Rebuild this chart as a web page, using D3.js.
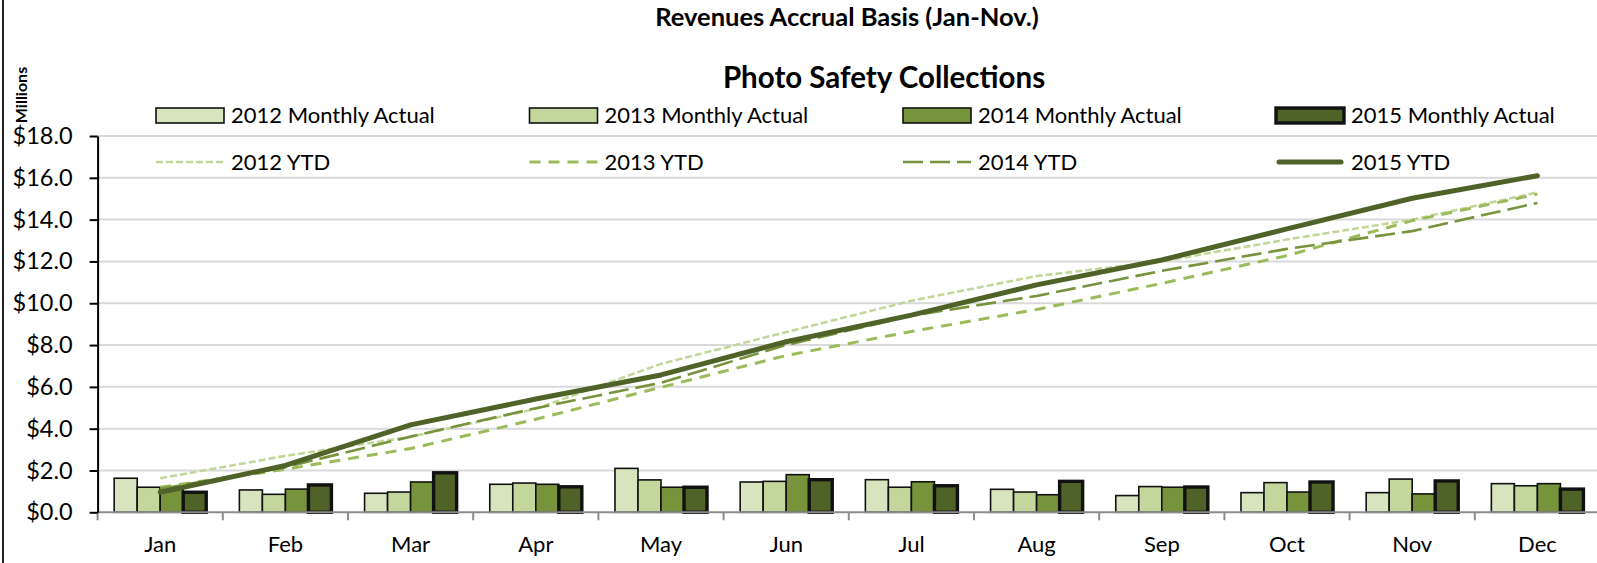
<!DOCTYPE html>
<html>
<head>
<meta charset="utf-8">
<script src="https://cdn.jsdelivr.net/npm/d3@7"></script>
<style>
  body { margin: 0; background: #fff; }
  svg text { font-family: Lato, "Open Sans", sans-serif; fill: #000; }
</style>
</head>
<body>
<div id="chart"></div>
<script>
// data ($ millions)
const months = ["Jan", "Feb", "Mar", "Apr", "May", "Jun", "Jul", "Aug", "Sep", "Oct", "Nov", "Dec"];
const years = ["2012", "2013", "2014", "2015"];

const monthly2012 = [1.63, 1.07, 0.91, 1.34, 2.10, 1.45, 1.56, 1.10, 0.80, 0.94, 0.94, 1.37];
const monthly2013 = [1.20, 0.86, 0.97, 1.40, 1.55, 1.48, 1.20, 0.97, 1.23, 1.42, 1.59, 1.27];
const monthly2014 = [1.12, 1.11, 1.45, 1.34, 1.20, 1.80, 1.46, 0.84, 1.20, 0.97, 0.88, 1.37];
const monthly2015 = [0.96, 1.31, 1.89, 1.22, 1.20, 1.56, 1.27, 1.48, 1.21, 1.45, 1.50, 1.11];

const ytd2012 = [1.63, 2.70, 3.61, 4.95, 7.10, 8.62, 10.12, 11.30, 12.00, 13.05, 14.00, 15.30];
const ytd2013 = [1.20, 2.06, 3.05, 4.45, 5.98, 7.50, 8.65, 9.70, 10.95, 12.28, 13.95, 15.22];
const ytd2014 = [1.12, 2.16, 3.62, 4.98, 6.20, 8.00, 9.40, 10.35, 11.55, 12.60, 13.45, 14.80];
const ytd2015 = [0.96, 2.24, 4.18, 5.42, 6.57, 8.16, 9.43, 10.88, 12.07, 13.56, 15.02, 16.10];

const yTicks = [0, 2, 4, 6, 8, 10, 12, 14, 16, 18];

const monthly = [monthly2012, monthly2013, monthly2014, monthly2015];
const ytd = [ytd2012, ytd2013, ytd2014, ytd2015];

// styles
const barColors = ["#d7e4bd", "#c3d69b", "#77933c", "#4f6228"];
const barStroke = [1.6, 1.6, 1.6, 3.4];
const lineColors = ["#c4d79b", "#9bbb59", "#77933c", "#4f6228"];
const lineDash = ["7,3", "11,8", "20,7", null];
const lineWidth = [2.6, 3, 2.6, 5];

const width = 1597, height = 563;
const margin = { top: 136, left: 97.6, bottom: 512.3 };
const plotW = 12 * 125.2;

let svg = d3
  .select("#chart")
  .append("svg")
  .attr("width", width)
  .attr("height", height);

let x0 = d3.scaleBand().domain(months).range([margin.left, margin.left + plotW]);
let x1 = d3.scaleBand().domain(years).range([0, x0.bandwidth()]).paddingOuter(0.72);
let y = d3.scaleLinear().domain([0, 18]).range([margin.bottom, margin.top]);

// chart frame line on the left
svg.append("line")
  .attr("x1", 3).attr("x2", 3).attr("y1", 0).attr("y2", height)
  .attr("stroke", "#222").attr("stroke-width", 2);

// gridlines
svg.append("g")
  .selectAll("line")
  .data(yTicks.filter((d) => d > 0))
  .enter()
  .append("line")
  .attr("x1", margin.left)
  .attr("x2", width)
  .attr("y1", (d) => y(d))
  .attr("y2", (d) => y(d))
  .attr("stroke", "#d9d9d9")
  .attr("stroke-width", 2);

// bars
years.forEach((yr, i) => {
  svg.append("g")
    .selectAll("rect")
    .data(monthly[i])
    .enter()
    .append("rect")
    .attr("x", (d, j) => x0(months[j]) + x1(yr))
    .attr("y", (d) => y(d))
    .attr("width", x1.bandwidth())
    .attr("height", (d) => y(0) - y(d))
    .attr("fill", barColors[i])
    .attr("stroke", "#111")
    .attr("stroke-width", barStroke[i]);
});

// x axis
svg.append("line")
  .attr("x1", margin.left).attr("x2", width)
  .attr("y1", y(0)).attr("y2", y(0))
  .attr("stroke", "#8c8c8c").attr("stroke-width", 2);

svg.append("g")
  .selectAll("line")
  .data(months)
  .enter()
  .append("line")
  .attr("x1", (d) => x0(d)).attr("x2", (d) => x0(d))
  .attr("y1", y(0)).attr("y2", y(0) + 8)
  .attr("stroke", "#8c8c8c").attr("stroke-width", 2);

const xAxis = svg.append("g")
  .attr("transform", "translate(0," + y(0) + ")")
  .call(d3.axisBottom(x0).tickSize(0).tickPadding(24));
xAxis.select(".domain").remove();
xAxis.selectAll("text").style("font-size", "22px");

// y axis
const yAxis = svg.append("g")
  .attr("transform", "translate(" + margin.left + ",0)")
  .call(
    d3.axisLeft(y)
      .tickValues(yTicks)
      .tickSize(8)
      .tickSizeOuter(0)
      .tickPadding(17)
      .tickFormat((d) => "$" + d.toFixed(1))
  );
yAxis.select(".domain").attr("stroke", "#000").attr("stroke-width", 2);
yAxis.selectAll(".tick line").attr("stroke", "#000").attr("stroke-width", 2);
yAxis.selectAll("text").style("font-size", "23.5px");

// ytd lines
let line = d3.line()
  .x((d, j) => x0(months[j]) + x0.bandwidth() / 2)
  .y((d) => y(d));

years.forEach((yr, i) => {
  svg.append("path")
    .datum(ytd[i])
    .attr("d", line)
    .attr("fill", "none")
    .attr("stroke", lineColors[i])
    .attr("stroke-width", lineWidth[i])
    .attr("stroke-dasharray", lineDash[i])
    .attr("stroke-linecap", i === 3 ? "round" : "butt")
    .attr("stroke-linejoin", "round");
});

// legend
const legendX = [156, 529.5, 903, 1276];
const legendRowY = [115.5, 162];

years.forEach((yr, i) => {
  const g = svg.append("g").attr("transform", "translate(" + legendX[i] + ",0)");
  g.append("rect")
    .attr("x", 0).attr("y", legendRowY[0] - 7.5)
    .attr("width", 68).attr("height", 15)
    .attr("fill", barColors[i])
    .attr("stroke", "#111")
    .attr("stroke-width", barStroke[i]);
  g.append("text")
    .attr("x", 75).attr("y", legendRowY[0])
    .attr("dy", "0.36em")
    .style("font-size", "22px")
    .text(yr + " Monthly Actual");
  g.append("line")
    .attr("x1", i === 3 ? 3 : 0).attr("x2", i === 3 ? 65 : 68)
    .attr("y1", legendRowY[1]).attr("y2", legendRowY[1])
    .attr("stroke", lineColors[i])
    .attr("stroke-width", lineWidth[i])
    .attr("stroke-dasharray", lineDash[i])
    .attr("stroke-linecap", i === 3 ? "round" : "butt");
  g.append("text")
    .attr("x", 75).attr("y", legendRowY[1])
    .attr("dy", "0.36em")
    .style("font-size", "22px")
    .text(yr + " YTD");
});

// titles
svg.append("text")
  .attr("x", 847).attr("y", 26)
  .attr("text-anchor", "middle")
  .style("font-size", "25.5px").style("font-weight", "bold")
  .text("Revenues Accrual Basis (Jan-Nov.)");

svg.append("text")
  .attr("x", 884).attr("y", 88)
  .attr("text-anchor", "middle")
  .style("font-size", "29.5px").style("font-weight", "bold")
  .text("Photo Safety Collections");

svg.append("text")
  .attr("transform", "translate(27,95) rotate(-90)")
  .attr("text-anchor", "middle")
  .style("font-size", "16px").style("font-weight", "bold")
  .text("Millions");
</script>
</body>
</html>
